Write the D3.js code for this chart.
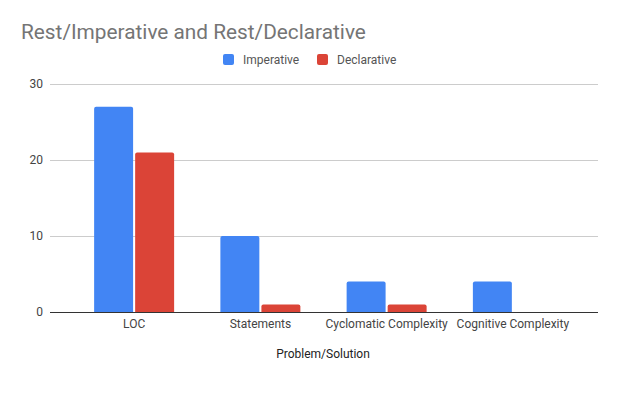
<!DOCTYPE html>
<html>
<head>
<meta charset="utf-8">
<script src="https://cdn.jsdelivr.net/npm/d3@7"></script>
<style>
  body { margin: 0; background: #fff; }
  svg { font-family: Roboto, Arial, sans-serif; }
</style>
</head>
<body>
<div id="chart"></div>
<script>
  // Data
  var categories = ['LOC', 'Statements', 'Cyclomatic Complexity', 'Cognitive Complexity'];
  var seriesNames = ['Imperative', 'Declarative'];
  var imperative = [27, 10, 4, 4];
  var declarative = [21, 1, 1, 0];
  var yTicks = [0, 10, 20, 30];

  var colors = ['#4285F4', '#DB4437'];
  var width = 640, height = 394;

  var svg = d3.select('#chart')
    .append('svg')
    .attr('width', width)
    .attr('height', height);

  // Title
  svg.append('text')
    .attr('x', 21)
    .attr('y', 39)
    .attr('fill', '#757575')
    .style('font-size', '20.8px')
    .text('Rest/Imperative and Rest/Declarative');

  // Scales
  var y = d3.scaleLinear().domain([0, 30]).range([312, 84]);
  var x0 = d3.scaleBand().domain(categories).range([71, 576]);
  var groupWidth = 80;
  var x1 = d3.scaleBand().domain(seriesNames).range([0, groupWidth]).paddingInner(0.05);

  // Gridlines
  svg.append('g')
    .selectAll('line')
    .data(yTicks.filter(function(d){ return d !== 0; }))
    .enter()
    .append('line')
    .attr('x1', 50)
    .attr('x2', 598)
    .attr('y1', function(d){ return y(d) + 0.5; })
    .attr('y2', function(d){ return y(d) + 0.5; })
    .attr('stroke', '#cccccc')
    .attr('stroke-width', 1);

  // Y axis labels
  svg.append('g')
    .selectAll('text')
    .data(yTicks)
    .enter()
    .append('text')
    .attr('x', 43)
    .attr('y', function(d){ return y(d) + 4; })
    .attr('text-anchor', 'end')
    .attr('fill', '#444')
    .style('font-size', '12px')
    .text(function(d){ return d; });

  // Bars
  var rows = categories.map(function(c, i){
    return { cat: c, values: [imperative[i], declarative[i]] };
  });

  var group = svg.append('g')
    .selectAll('g')
    .data(rows)
    .enter()
    .append('g')
    .attr('transform', function(d){
      return 'translate(' + (x0(d.cat) + (x0.bandwidth() - groupWidth) / 2) + ',0)';
    });

  group.selectAll('path')
    .data(function(d){
      return d.values.map(function(v, j){ return { name: seriesNames[j], value: v, idx: j }; });
    })
    .enter()
    .filter(function(d){ return d.value > 0; })
    .append('path')
    .attr('fill', function(d){ return colors[d.idx]; })
    .attr('d', function(d){
      var bx = x1(d.name), bw = x1.bandwidth();
      var top = y(d.value), bottom = y(0);
      var r = 2;
      return 'M' + bx + ',' + bottom +
        'V' + (top + r) +
        'Q' + bx + ',' + top + ' ' + (bx + r) + ',' + top +
        'H' + (bx + bw - r) +
        'Q' + (bx + bw) + ',' + top + ' ' + (bx + bw) + ',' + (top + r) +
        'V' + bottom + 'Z';
    });

  // Baseline
  svg.append('line')
    .attr('x1', 50)
    .attr('x2', 598)
    .attr('y1', y(0) + 0.5)
    .attr('y2', y(0) + 0.5)
    .attr('stroke', '#333')
    .attr('stroke-width', 1);

  // Category labels
  svg.append('g')
    .selectAll('text')
    .data(categories)
    .enter()
    .append('text')
    .attr('x', function(d){ return x0(d) + x0.bandwidth() / 2; })
    .attr('y', 328)
    .attr('text-anchor', 'middle')
    .attr('fill', '#444')
    .style('font-size', '12px')
    .text(function(d){ return d; });

  // Axis title
  svg.append('text')
    .attr('x', 323)
    .attr('y', 358)
    .attr('text-anchor', 'middle')
    .attr('fill', '#222')
    .style('font-size', '12px')
    .text('Problem/Solution');

  // Legend
  var legendX = [223, 317];
  var legend = svg.append('g')
    .selectAll('g')
    .data(seriesNames)
    .enter()
    .append('g')
    .attr('transform', function(d, i){ return 'translate(' + legendX[i] + ',54)'; });

  legend.append('rect')
    .attr('width', 11)
    .attr('height', 11)
    .attr('rx', 2)
    .attr('fill', function(d, i){ return colors[i]; });

  legend.append('text')
    .attr('x', 20)
    .attr('y', 10)
    .attr('fill', '#555')
    .style('font-size', '12px')
    .text(function(d){ return d; });
</script>
</body>
</html>
